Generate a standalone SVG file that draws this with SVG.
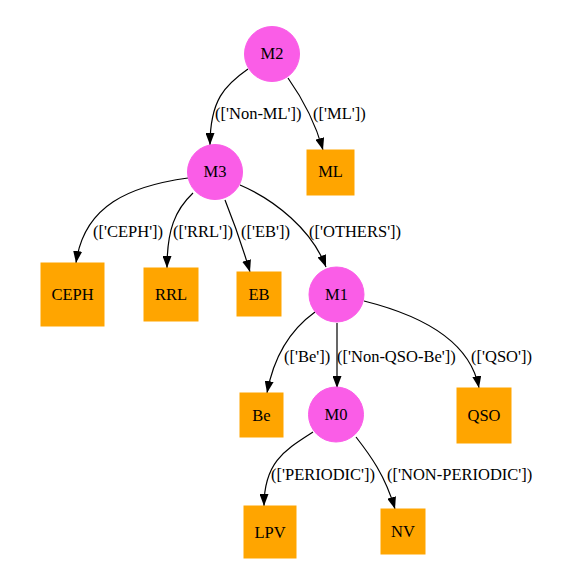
<svg xmlns="http://www.w3.org/2000/svg" width="570" height="576" viewBox="0 0 570 576">
<style>
.c{fill:#fa5de7;stroke:#fa5de7}
.b{fill:#ffa500;stroke:#ffa500}
text{font-family:"Liberation Serif","Times New Roman",serif;font-size:16.5px;fill:#000}
.n{text-anchor:middle}
.e{fill:none;stroke:#000;stroke-width:1.2}
</style>
<defs>
<marker id="ah" markerWidth="12" markerHeight="9" refX="12" refY="4.5" orient="auto" markerUnits="userSpaceOnUse">
<path d="M0,0 L12,4.5 L0,9 Z" fill="#000"/>
</marker>
</defs>
<rect width="570" height="576" fill="#fff"/>
<g id="edges">
<path class="e" d="M248,69 C225,85 210,100 210,145" marker-end="url(#ah)"/>
<path class="e" d="M288,78 C300,95 314,118 323,150" marker-end="url(#ah)"/>
<path class="e" d="M188,178 C130,186 84,205 76,263" marker-end="url(#ah)"/>
<path class="e" d="M193,193 C175,210 167,230 167,268" marker-end="url(#ah)"/>
<path class="e" d="M225,200 C233,220 242,245 250,272" marker-end="url(#ah)"/>
<path class="e" d="M240,185 C275,200 312,230 326,267" marker-end="url(#ah)"/>
<path class="e" d="M315,312 C290,330 274,355 267,393" marker-end="url(#ah)"/>
<path class="e" d="M337,323 L337,388" marker-end="url(#ah)"/>
<path class="e" d="M364,301 C420,315 470,340 479,388" marker-end="url(#ah)"/>
<path class="e" d="M313,432 C285,450 264,462 264,506" marker-end="url(#ah)"/>
<path class="e" d="M356,437 C370,455 385,475 395,509" marker-end="url(#ah)"/>
<text x="215" y="119">(['Non-ML'])</text>
<text x="313" y="119">(['ML'])</text>
<text x="93" y="237">(['CEPH'])</text>
<text x="173" y="237">(['RRL'])</text>
<text x="241" y="237">(['EB'])</text>
<text x="309" y="237">(['OTHERS'])</text>
<text x="284" y="362">(['Be'])</text>
<text x="337" y="362">(['Non-QSO-Be'])</text>
<text x="471" y="362">(['QSO'])</text>
<text x="271" y="480">(['PERIODIC'])</text>
<text x="387" y="480">(['NON-PERIODIC'])</text>
</g>
<g id="M2"><circle class="c" cx="272" cy="54" r="27.5"/><text class="n" x="272" y="59">M2</text></g>
<g id="M3"><circle class="c" cx="215" cy="172" r="27.5"/><text class="n" x="215" y="177">M3</text></g>
<g id="ML"><rect class="b" x="307" y="150" width="47" height="45"/><text class="n" x="330.5" y="177">ML</text></g>
<g id="CEPH"><rect class="b" x="41" y="263" width="63" height="63"/><text class="n" x="72.5" y="300">CEPH</text></g>
<g id="RRL"><rect class="b" x="144" y="268" width="54" height="53"/><text class="n" x="171" y="300">RRL</text></g>
<g id="EB"><rect class="b" x="237" y="272" width="44" height="44"/><text class="n" x="259" y="300">EB</text></g>
<g id="M1"><circle class="c" cx="336.5" cy="294.5" r="27.5"/><text class="n" x="336.5" y="300">M1</text></g>
<g id="Be"><rect class="b" x="240" y="393" width="43" height="44"/><text class="n" x="261.5" y="420.5">Be</text></g>
<g id="M0"><circle class="c" cx="336" cy="414.5" r="27.5"/><text class="n" x="336" y="420">M0</text></g>
<g id="QSO"><rect class="b" x="457" y="388" width="54" height="55"/><text class="n" x="484" y="420.5">QSO</text></g>
<g id="LPV"><rect class="b" x="244" y="506" width="52" height="52"/><text class="n" x="270" y="537.5">LPV</text></g>
<g id="NV"><rect class="b" x="381" y="509" width="44" height="45"/><text class="n" x="403" y="537">NV</text></g>
</svg>
